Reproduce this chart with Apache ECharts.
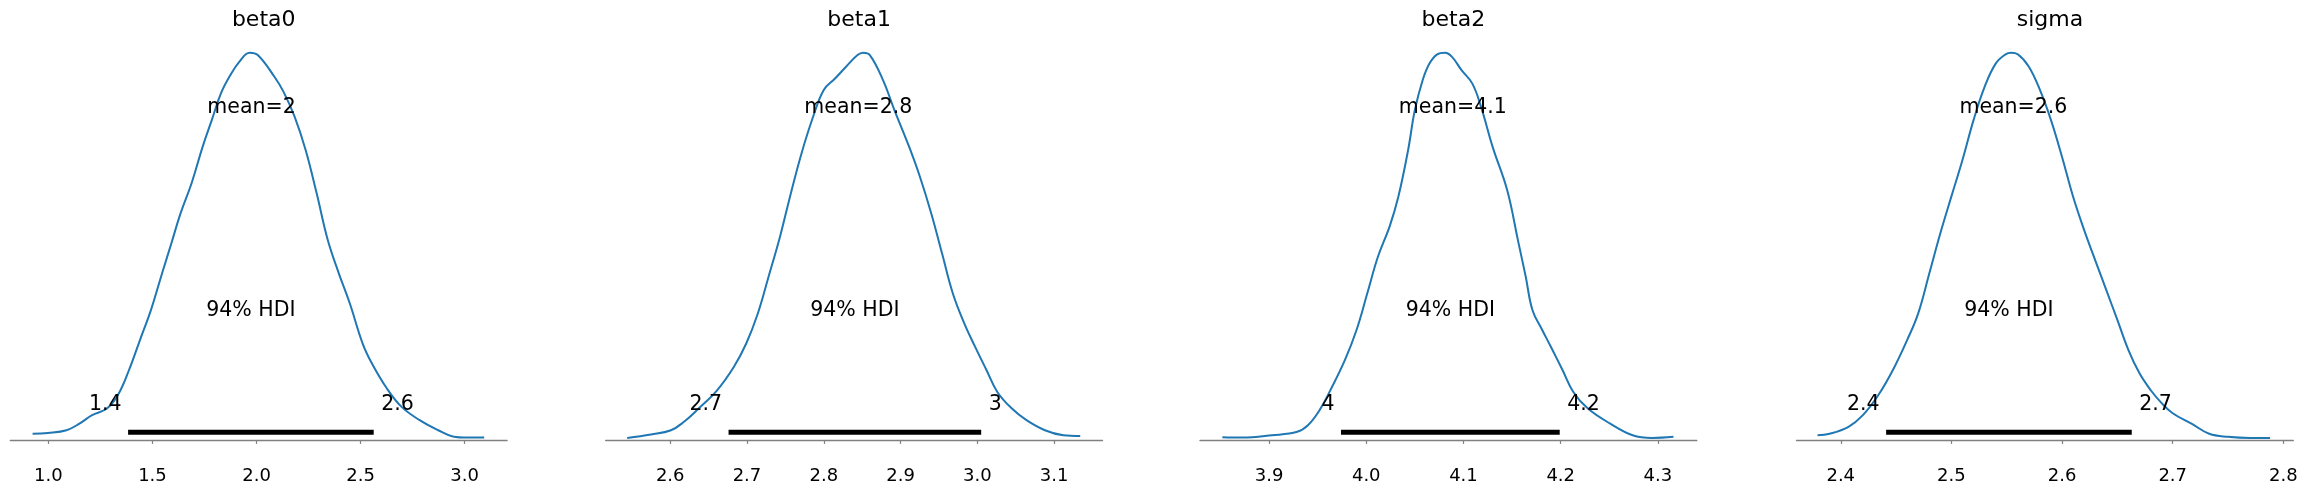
<!DOCTYPE html>
<html>
<head>
<meta charset="utf-8">
<script src="https://cdn.jsdelivr.net/npm/echarts@6/dist/echarts.min.js"></script>
<style>html,body{margin:0;padding:0;background:#fff;}#main{width:2308px;height:497px;}</style>
</head>
<body>
<div id="main"></div>
<script>
// ---- data (density normalised to peak = 1) ----
const panelTitles = ['beta0', 'beta1', 'beta2', 'sigma'];

const beta0Density = [[0.924,0.016],[0.998,0.018],[1.087,0.025],[1.149,0.042],[1.210,0.064],[1.281,0.081],[1.334,0.116],[1.387,0.180],[1.440,0.258],[1.493,0.336],[1.546,0.430],[1.591,0.508],[1.635,0.585],[1.688,0.663],[1.741,0.757],[1.785,0.826],[1.829,0.895],[1.874,0.942],[1.918,0.977],[1.967,1.000],[2.006,0.994],[2.086,0.938],[2.130,0.899],[2.183,0.835],[2.236,0.749],[2.289,0.637],[2.342,0.517],[2.395,0.431],[2.448,0.353],[2.510,0.249],[2.554,0.198],[2.625,0.134],[2.696,0.086],[2.784,0.051],[2.873,0.025],[2.943,0.009],[3.014,0.006],[3.094,0.006]];
const beta1Density = [[2.544,0.005],[2.575,0.014],[2.601,0.025],[2.618,0.047],[2.637,0.081],[2.661,0.128],[2.683,0.189],[2.699,0.249],[2.714,0.326],[2.728,0.421],[2.743,0.525],[2.757,0.636],[2.771,0.740],[2.786,0.834],[2.800,0.904],[2.815,0.934],[2.829,0.964],[2.844,0.994],[2.851,1.000],[2.860,0.994],[2.877,0.930],[2.892,0.852],[2.911,0.758],[2.925,0.681],[2.940,0.585],[2.954,0.482],[2.968,0.379],[2.983,0.301],[2.997,0.241],[3.012,0.180],[3.026,0.124],[3.045,0.081],[3.064,0.051],[3.088,0.025],[3.112,0.012],[3.134,0.010]];
const beta2Density = [[3.852,0.007],[3.872,0.006],[3.903,0.012],[3.929,0.021],[3.940,0.038],[3.952,0.077],[3.963,0.128],[3.978,0.206],[3.990,0.284],[4.001,0.378],[4.012,0.473],[4.024,0.551],[4.033,0.628],[4.043,0.748],[4.050,0.852],[4.058,0.929],[4.065,0.972],[4.073,0.996],[4.081,1.000],[4.088,0.990],[4.098,0.955],[4.109,0.921],[4.118,0.861],[4.130,0.757],[4.145,0.645],[4.156,0.516],[4.164,0.422],[4.171,0.335],[4.181,0.284],[4.190,0.240],[4.202,0.180],[4.213,0.124],[4.228,0.081],[4.251,0.042],[4.274,0.012],[4.294,0.005],[4.316,0.008]];
const sigmaDensity = [[2.379,0.012],[2.390,0.016],[2.407,0.034],[2.420,0.064],[2.434,0.116],[2.447,0.180],[2.460,0.258],[2.470,0.327],[2.480,0.430],[2.490,0.534],[2.500,0.629],[2.510,0.723],[2.520,0.826],[2.530,0.912],[2.540,0.972],[2.549,0.996],[2.554,1.000],[2.560,0.996],[2.570,0.964],[2.580,0.904],[2.590,0.826],[2.600,0.731],[2.610,0.628],[2.620,0.542],[2.630,0.464],[2.640,0.387],[2.650,0.310],[2.660,0.232],[2.670,0.172],[2.680,0.129],[2.690,0.095],[2.700,0.069],[2.717,0.042],[2.733,0.016],[2.750,0.008],[2.770,0.005],[2.788,0.005]];

const hdiLow  = [1.383, 2.676, 3.974, 2.441];
const hdiHigh = [2.563, 3.005, 4.199, 2.663];
const hdiLowLabels  = ['1.4', '2.7', '4', '2.4'];
const hdiHighLabels = ['2.6', '3', '4.2', '2.7'];
const means = [1.976, 2.845, 4.089, 2.556];
const meanLabels = ['mean=2', 'mean=2.8', 'mean=4.1', 'mean=2.6'];
const hdiText = '94% HDI';

const xMins = [0.817, 2.516, 3.829, 2.360];
const xMaxs = [3.204, 3.163, 4.340, 2.809];
const beta0Ticks = [1.0, 1.5, 2.0, 2.5, 3.0];
const beta1Ticks = [2.6, 2.7, 2.8, 2.9, 3.0, 3.1];
const beta2Ticks = [3.9, 4.0, 4.1, 4.2, 4.3];
const sigmaTicks = [2.4, 2.5, 2.6, 2.7, 2.8];

// ---- layout / style ----
const densities = [beta0Density, beta1Density, beta2Density, sigmaDensity];
const tickSets = [beta0Ticks, beta1Ticks, beta2Ticks, sigmaTicks];
const gridLefts = [10.3, 605.7, 1200, 1796.5];
const gridWidth = 496.8;
const gridTop = 33.4;
const gridBottom = 37.7;
const FONT = 'DejaVu Sans';
const hdiBarY = 0.02, hdiLabelY = 0.0915, hdiTextY = 0.335, meanTextY = 0.859;

const grids = [], xAxes = [], yAxes = [], titles = [], series = [];
for (let i = 0; i < 4; i++) {
  grids.push({left: gridLefts[i], width: gridWidth, top: gridTop, bottom: gridBottom, containLabel: false});
  xAxes.push({
    type: 'value', gridIndex: i, min: xMins[i], max: xMaxs[i],
    splitLine: {show: false},
    axisLine: {show: true, lineStyle: {color: '#808080', width: 1.3}},
    axisTick: {show: true, length: 4, lineStyle: {color: '#808080', width: 1.2}, customValues: tickSets[i]},
    axisLabel: {color: '#000', fontFamily: FONT, fontSize: 18, margin: 8, customValues: tickSets[i],
      formatter: v => Number(v).toFixed(1)}
  });
  yAxes.push({type: 'value', gridIndex: i, min: -0.05, max: 1.05, show: false, splitLine: {show: false}});
  titles.push({text: panelTitles[i], left: gridLefts[i] + gridWidth / 2, top: 4, textAlign: 'center',
    textStyle: {fontFamily: FONT, fontSize: 22, fontWeight: 'normal', color: '#000'}});

  series.push({type: 'line', xAxisIndex: i, yAxisIndex: i, data: densities[i], smooth: 0.4, symbol: 'none',
    lineStyle: {color: '#1f77b4', width: 2}, z: 3, silent: true});
  series.push({type: 'line', xAxisIndex: i, yAxisIndex: i, data: [[hdiLow[i], hdiBarY], [hdiHigh[i], hdiBarY]],
    symbol: 'none', lineStyle: {color: '#000', width: 5, cap: 'butt'}, z: 4, silent: true});
  const txt = {fontFamily: FONT, fontSize: 20.5, color: '#000', opacity: 1, textBorderWidth: 0};
  series.push({type: 'scatter', xAxisIndex: i, yAxisIndex: i, symbol: 'circle', symbolSize: 1, z: 5, silent: true,
    itemStyle: {color: '#ffffff', opacity: 0.01},
    data: [
      {value: [hdiLow[i], hdiLabelY], label: Object.assign({show: true, position: 'left', distance: 6, formatter: hdiLowLabels[i]}, txt)},
      {value: [hdiHigh[i], hdiLabelY], label: Object.assign({show: true, position: 'right', distance: 7, formatter: hdiHighLabels[i]}, txt)},
      {value: [(hdiLow[i] + hdiHigh[i]) / 2, hdiTextY], label: Object.assign({show: true, position: 'inside', formatter: hdiText}, txt)},
      {value: [means[i], meanTextY], label: Object.assign({show: true, position: 'inside', formatter: meanLabels[i]}, txt)}
    ]});
}

const chart = echarts.init(document.getElementById('main'), null, {renderer: 'canvas'});
chart.setOption({
  animation: false,
  backgroundColor: '#fff',
  title: titles, grid: grids, xAxis: xAxes, yAxis: yAxes, series: series
});
</script>
</body>
</html>
